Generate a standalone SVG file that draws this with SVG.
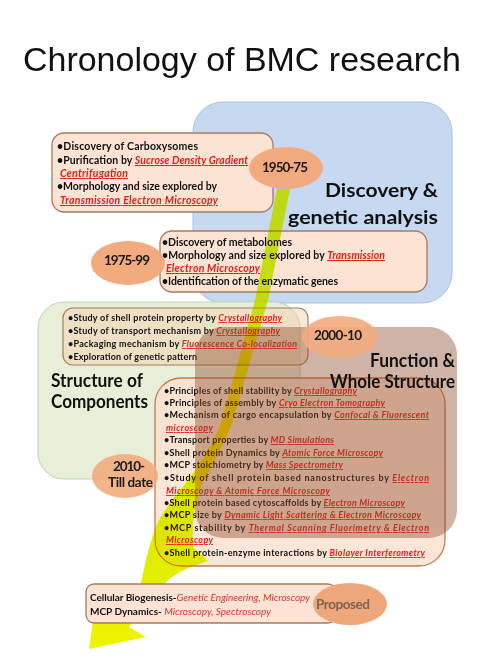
<svg xmlns="http://www.w3.org/2000/svg" width="477" height="669" viewBox="0 0 477 669">
<style>
.t{font-family:Lato,"Liberation Sans",sans-serif;font-weight:bold;fill:#111;}
.r{fill:#e0201b;font-style:italic;text-decoration:underline;}
.r2{fill:#cf3a36;font-style:italic;font-weight:normal;}
.b1{font-size:10.5px;}
.b4{font-size:9px;}
.hd{font-family:Lato,"Liberation Sans",sans-serif;font-weight:bold;font-size:18.5px;fill:#111;}
.el{fill:#f2ab7e;}
.et{font-family:Lato,"Liberation Sans",sans-serif;font-weight:bold;font-size:13.5px;fill:#1a1a1a;text-anchor:middle;}
.peach{fill:#fce3d4;stroke:#a67c62;stroke-width:1.3;}
</style>
<defs>
<linearGradient id="band" gradientUnits="userSpaceOnUse" x1="0" y1="189" x2="0" y2="650">
<stop offset="0" stop-color="#bcd818"/>
<stop offset="0.6" stop-color="#d2e800"/>
<stop offset="1" stop-color="#eef400"/>
</linearGradient>
</defs>
<rect width="477" height="669" fill="#fff"/>
<text x="23" y="71" font-family="Liberation Sans, sans-serif" font-size="34" fill="#111" textLength="438" lengthAdjust="spacingAndGlyphs">Chronology of BMC research</text>

<g id="discovery-region">
<rect x="193" y="102" width="259" height="201" rx="30" fill="#c6d9f0" stroke="#a9c1dd" stroke-width="1"/>
<text class="hd" x="438" y="197" text-anchor="end" textLength="113" lengthAdjust="spacingAndGlyphs">Discovery &amp;</text>
<text class="hd" x="438" y="224" text-anchor="end" textLength="150" lengthAdjust="spacingAndGlyphs">genetic analysis</text>
</g>

<g id="structure-region">
<rect x="38" y="302" width="262" height="177" rx="26" fill="#e7efd9" stroke="#c3d3b0" stroke-width="1"/>
<text class="hd" x="51" y="387" textLength="92" lengthAdjust="spacingAndGlyphs">Structure of</text>
<text class="hd" x="51" y="408" textLength="97" lengthAdjust="spacingAndGlyphs">Components</text>
</g>

<g id="box-1950">
<rect class="peach" x="52" y="133" width="221" height="79" rx="12"/>
<text class="t b1" x="57" y="150" textLength="141">•Discovery of Carboxysomes</text>
<text class="t b1" x="57" y="164" textLength="191">•Purification by <tspan class="r">Sucrose Density Gradient</tspan></text>
<text class="t b1" x="60" y="177" textLength="68"><tspan class="r">Centrifugation</tspan></text>
<text class="t b1" x="57" y="190" textLength="160">•Morphology and size explored by</text>
<text class="t b1" x="60" y="204" textLength="158"><tspan class="r">Transmission Electron Microscopy</tspan></text>
</g>

<g id="box-1975">
<rect class="peach" x="160" y="231" width="267" height="61" rx="12"/>
<text class="t b1" x="162" y="246" textLength="130">•Discovery of metabolomes</text>
<text class="t b1" x="162" y="259" textLength="223">•Morphology and size explored by <tspan class="r">Transmission</tspan></text>
<text class="t b1" x="166" y="272" textLength="94"><tspan class="r">Electron Microscopy</tspan></text>
<text class="t b1" x="162" y="285" textLength="176">•Identification of the enzymatic genes</text>
</g>

<g id="box-structure">
<rect x="63" y="308" width="245" height="57" rx="10" fill="#f6cfae" fill-opacity="0.45" stroke="#a67c62" stroke-width="1.2"/>
<text class="t b4" x="68" y="321" font-size="9.5" textLength="214">•Study of shell protein property by <tspan class="r">Crystallography</tspan></text>
<text class="t b4" x="68" y="334" font-size="9.5" textLength="212">•Study of transport mechanism by <tspan class="r">Crystallography</tspan></text>
<text class="t b4" x="68" y="347" font-size="9.5" textLength="229">•Packaging mechanism by <tspan class="r">Fluorescence Co-localization</tspan></text>
<text class="t b4" x="68" y="360" font-size="9.5" textLength="129">•Exploration of genetic pattern</text>
</g>

<g id="box-2010">
<rect x="155" y="378" width="290" height="188" rx="26" fill="#fde0cd" fill-opacity="0.8" stroke="#c47b4f" stroke-width="1.3"/>
<text class="t b4" x="164" y="394" textLength="193">•Principles of shell stability by <tspan class="r">Crystallography</tspan></text>
<text class="t b4" x="164" y="406" textLength="221">•Principles of assembly by <tspan class="r">Cryo Electron Tomography</tspan></text>
<text class="t b4" x="164" y="418" textLength="265">•Mechanism of cargo encapsulation by <tspan class="r">Confocal &amp; Fluorescent</tspan></text>
<text class="t b4" x="166" y="431" textLength="47"><tspan class="r">microscopy</tspan></text>
<text class="t b4" x="164" y="443" textLength="170">•Transport properties by <tspan class="r">MD Simulations</tspan></text>
<text class="t b4" x="164" y="456" textLength="219">•Shell protein Dynamics by <tspan class="r">Atomic Force Microscopy</tspan></text>
<text class="t b4" x="164" y="468" textLength="179">•MCP stoichiometry by <tspan class="r">Mass Spectrometry</tspan></text>
<text class="t b4" x="164" y="481" textLength="265">•Study of shell protein based nanostructures by <tspan class="r">Electron</tspan></text>
<text class="t b4" x="166" y="494" textLength="164"><tspan class="r">Microscopy &amp; Atomic Force Microscopy</tspan></text>
<text class="t b4" x="164" y="506" textLength="241">•Shell protein based cytoscaffolds by <tspan class="r">Electron Microscopy</tspan></text>
<text class="t b4" x="164" y="518" textLength="257">•MCP size by <tspan class="r">Dynamic Light Scattering &amp; Electron Microscopy</tspan></text>
<text class="t b4" x="164" y="531" textLength="265">•MCP stability by <tspan class="r">Thermal Scanning Fluorimetry &amp; Electron</tspan></text>
<text class="t b4" x="166" y="543" textLength="47"><tspan class="r">Microscopy</tspan></text>
<text class="t b4" x="164" y="556" textLength="261">•Shell protein-enzyme interactions by <tspan class="r">Biolayer Interferometry</tspan></text>
</g>

<g id="function-region">
<rect x="195" y="327" width="262" height="211" rx="28" fill="#8c4a2a" fill-opacity="0.42"/>
<text class="hd" x="455" y="367" text-anchor="end" textLength="85" lengthAdjust="spacingAndGlyphs">Function &amp;</text>
<text class="hd" x="455" y="388" text-anchor="end" textLength="125" lengthAdjust="spacingAndGlyphs">Whole Structure</text>
</g>

<g id="connectors">
<path d="M277 189 L290 189 L268 300 L233 420 C226 440 214 462 205 478 C196 495 190 525 194 548 L208 561 C185 568 168 576 160 590 L129 627 L146 637 L89 649 L97 592 L140 588 C143 575 148 545 158 522 C166 508 172 500 178 493 C190 478 212 450 222 420 L255 300 Z" fill="url(#band)" style="mix-blend-mode:darken"/>
</g>

<g id="box-proposed">
<rect x="86" y="584" width="250" height="39" rx="8" class="peach"/>
<text class="t" x="90" y="601" font-size="10" textLength="220">Cellular Biogenesis-<tspan class="r2">Genetic Engineering, Microscopy</tspan></text>
<text class="t" x="90" y="615" font-size="10" textLength="181">MCP Dynamics- <tspan class="r2">Microscopy, Spectroscopy</tspan></text>
</g>

<g id="era-1950">
<ellipse class="el" cx="286" cy="168" rx="37" ry="21"/>
<text class="et" x="285" y="172" textLength="46">1950-75</text>
</g>
<g id="era-1975">
<ellipse class="el" cx="128" cy="263" rx="37" ry="22"/>
<text class="et" x="127" y="265" textLength="46">1975-99</text>
</g>
<g id="era-2000">
<ellipse class="el" cx="340" cy="337" rx="38" ry="21" fill-opacity="0.9"/>
<text class="et" x="338" y="340" textLength="48">2000-10</text>
</g>
<g id="era-2010">
<ellipse class="el" cx="125" cy="476" rx="33" ry="22" fill-opacity="0.9"/>
<text class="et" x="129" y="471" font-size="14" textLength="32">2010-</text>
<text class="et" x="130.5" y="487" font-size="14" textLength="45">Till date</text>
</g>
<g id="era-proposed">
<ellipse cx="350" cy="604" rx="37" ry="21" fill="#eea77b"/>
<text class="et" x="343" y="609" font-size="15" style="fill:#7a6352" textLength="54">Proposed</text>
</g>
</svg>
